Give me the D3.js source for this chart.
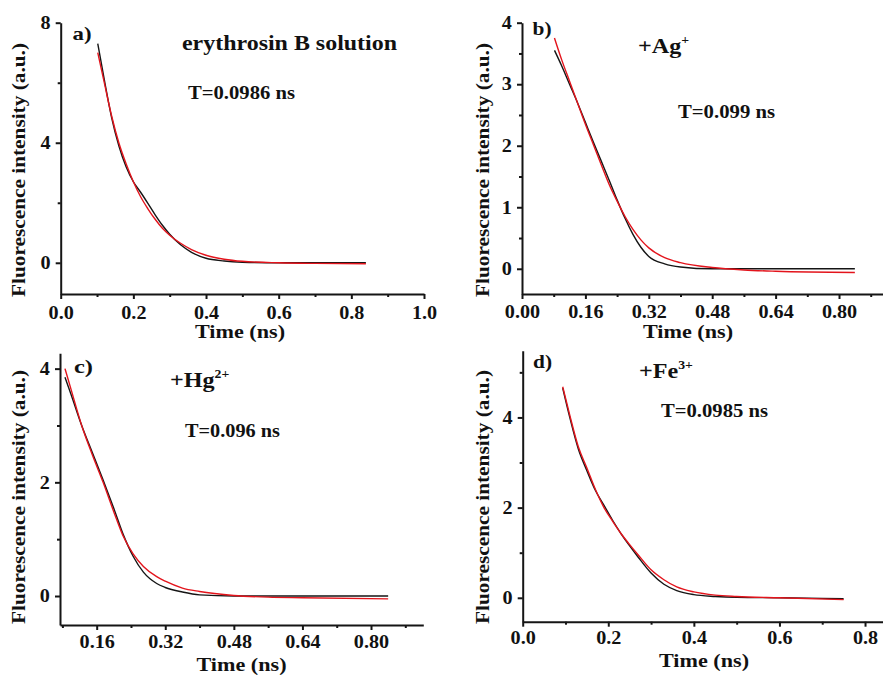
<!DOCTYPE html>
<html>
<head>
<meta charset="utf-8">
<script src="https://cdn.jsdelivr.net/npm/d3@7"></script>
<style>
  body { margin: 0; background: #fff; }
  svg { display: block; }
  text { font-family: "Liberation Serif", "Times New Roman", serif; font-weight: bold; fill: #111; }
</style>
</head>
<body>
<svg id="chart" width="883" height="678"></svg>
<script>
// a) erythrosin B solution
const aTime     = [0.102, 0.12, 0.14, 0.16, 0.18, 0.20, 0.22, 0.24, 0.26, 0.28, 0.30, 0.33, 0.36, 0.40, 0.45, 0.50, 0.60, 0.70, 0.84];
const aMeasured = [7.3, 6.1, 4.85, 3.9, 3.2, 2.7, 2.35, 1.98, 1.6, 1.25, 0.95, 0.6, 0.35, 0.15, 0.06, 0.02, 0.0, 0.0, 0.0];
const aFit      = [7.0, 6.0, 4.9, 4.0, 3.3, 2.7, 2.2, 1.8, 1.45, 1.15, 0.92, 0.65, 0.44, 0.25, 0.12, 0.05, 0.0, -0.02, -0.03];

// b) +Ag+
const bTime     = [0.082, 0.10, 0.12, 0.14, 0.16, 0.18, 0.20, 0.22, 0.24, 0.26, 0.28, 0.30, 0.32, 0.36, 0.40, 0.48, 0.56, 0.64, 0.84];
const bMeasured = [3.55, 3.3, 3.0, 2.7, 2.38, 2.06, 1.75, 1.44, 1.12, 0.82, 0.56, 0.35, 0.2, 0.08, 0.03, 0.0, 0.0, 0.0, 0.0];
const bFit      = [3.75, 3.4, 3.05, 2.7, 2.35, 2.02, 1.69, 1.37, 1.1, 0.85, 0.64, 0.47, 0.34, 0.18, 0.1, 0.02, -0.02, -0.04, -0.06];

// c) +Hg2+
const cTime     = [0.086, 0.10, 0.125, 0.15, 0.175, 0.20, 0.222, 0.245, 0.269, 0.30, 0.32, 0.36, 0.40, 0.48, 0.56, 0.64, 0.84];
const cMeasured = [3.85, 3.55, 3.0, 2.52, 2.04, 1.54, 1.08, 0.7, 0.42, 0.22, 0.15, 0.07, 0.02, 0.0, 0.0, 0.0, 0.0];
const cFit      = [4.0, 3.64, 3.0, 2.48, 2.0, 1.48, 1.05, 0.74, 0.52, 0.34, 0.26, 0.14, 0.08, 0.01, -0.02, -0.03, -0.05];

// d) +Fe3+
const dTime     = [0.0935, 0.11, 0.13, 0.15, 0.17, 0.19, 0.21, 0.23, 0.25, 0.27, 0.30, 0.33, 0.36, 0.40, 0.45, 0.50, 0.60, 0.75];
const dMeasured = [4.65, 4.0, 3.3, 2.82, 2.38, 2.05, 1.72, 1.42, 1.15, 0.9, 0.55, 0.3, 0.16, 0.07, 0.03, 0.01, 0.0, -0.02];
const dFit      = [4.68, 4.05, 3.35, 2.88, 2.4, 2.0, 1.7, 1.42, 1.18, 0.95, 0.62, 0.4, 0.24, 0.13, 0.06, 0.03, 0.0, -0.04];

// tick values and labels
const aXTicks = [0, 0.2, 0.4, 0.6, 0.8, 1.0];
const aXLabels = ["0.0", "0.2", "0.4", "0.6", "0.8", "1.0"];
const aXMinor = [0.1, 0.3, 0.5, 0.7, 0.9];
const aYTicks = [0, 4, 8];
const aYLabels = ["0", "4", "8"];
const aYMinor = [2, 6];

const bXTicks = [0, 0.16, 0.32, 0.48, 0.64, 0.80];
const bXLabels = ["0.00", "0.16", "0.32", "0.48", "0.64", "0.80"];
const bXMinor = [0.08, 0.24, 0.40, 0.56, 0.72, 0.88];
const bYTicks = [0, 1, 2, 3, 4];
const bYLabels = ["0", "1", "2", "3", "4"];
const bYMinor = [0.5, 1.5, 2.5, 3.5];

const cXTicks = [0.16, 0.32, 0.48, 0.64, 0.80];
const cXLabels = ["0.16", "0.32", "0.48", "0.64", "0.80"];
const cXMinor = [0.08, 0.24, 0.40, 0.56, 0.72, 0.88];
const cYTicks = [0, 2, 4];
const cYLabels = ["0", "2", "4"];
const cYMinor = [1, 3];

const dXTicks = [0, 0.2, 0.4, 0.6, 0.8];
const dXLabels = ["0.0", "0.2", "0.4", "0.6", "0.8"];
const dXMinor = [0.1, 0.3, 0.5, 0.7];
const dYTicks = [0, 2, 4];
const dYLabels = ["0", "2", "4"];
const dYMinor = [1, 3, 5];

const panelTags = ["a)", "b)", "c)", "d)"];
const lifetimes = ["T=0.0986 ns", "T=0.099 ns", "T=0.096 ns", "T=0.0985 ns"];

const BLACK = "#151515";
const RED = "#e3141c";

const svg = d3.select("#chart");

// layout for each panel (pixel frames and axis domains)
const panels = [
  { time: aTime, measured: aMeasured, fit: aFit,
    xd: [0, 1.0], xr: [60.7, 424], yd: [-1.04, 8], yr: [294, 22.7],
    xt: aXTicks, xl: aXLabels, xm: aXMinor, yt: aYTicks, yl: aYLabels, ym: aYMinor,
    tag: [72.5, 40], life: [188, 99, 107], ytitle: [25, 170], xtitle: [240, 338], xpad: 7 },
  { time: bTime, measured: bMeasured, fit: bFit,
    xd: [0, 0.911], xr: [522, 883], yd: [-0.41, 4], yr: [294, 22.7],
    xt: bXTicks, xl: bXLabels, xm: bXMinor, yt: bYTicks, yl: bYLabels, ym: bYMinor,
    tag: [532.5, 35], life: [678, 118, 97], ytitle: [489, 170], xtitle: [688, 338], xpad: 6 },
  { time: cTime, measured: cMeasured, fit: cFit,
    xd: [0.0744, 0.922], xr: [60, 423.3], yd: [-0.51, 4.27], yr: [625, 353.3],
    xt: cXTicks, xl: cXLabels, xm: cXMinor, yt: cYTicks, yl: cYLabels, ym: cYMinor,
    tag: [74, 373], life: [185, 437, 95], ytitle: [25, 497], xtitle: [241.5, 671], xpad: 5 },
  { time: dTime, measured: dMeasured, fit: dFit,
    xd: [0, 0.842], xr: [522.7, 883], yd: [-0.53, 5.48], yr: [621.7, 350.7],
    xt: dXTicks, xl: dXLabels, xm: dXMinor, yt: dYTicks, yl: dYLabels, ym: dYMinor,
    tag: [533, 368], life: [661, 417, 107], ytitle: [489, 497], xtitle: [704, 667], xpad: 5 }
];

function drawPanel(p, i) {
  const g = svg.append("g");
  const x = d3.scaleLinear().domain(p.xd).range(p.xr);
  const y = d3.scaleLinear().domain(p.yd).range(p.yr);
  const y0 = p.yr[0], x0 = p.xr[0];

  // minor ticks first, then major axis on top
  g.append("g").attr("transform", `translate(0,${y0})`)
    .call(d3.axisBottom(x).tickValues(p.xm).tickSize(3).tickSizeOuter(0).tickFormat(""))
    .call(a => a.select(".domain").remove());
  g.append("g").attr("transform", `translate(${x0},0)`)
    .call(d3.axisLeft(y).tickValues(p.ym).tickSize(3).tickSizeOuter(0).tickFormat(""))
    .call(a => a.select(".domain").remove());

  const xa = g.append("g").attr("transform", `translate(0,${y0})`)
    .call(d3.axisBottom(x).tickValues(p.xt).tickSize(5).tickSizeOuter(0).tickPadding(p.xpad)
      .tickFormat((d, k) => p.xl[k]));
  const ya = g.append("g").attr("transform", `translate(${x0},0)`)
    .call(d3.axisLeft(y).tickValues(p.yt).tickSize(5).tickSizeOuter(0).tickPadding(4)
      .tickFormat((d, k) => p.yl[k]));

  [xa, ya].forEach(a => {
    a.selectAll("path, line").attr("stroke", BLACK).attr("stroke-width", 2);
    a.selectAll("text").attr("font-family", null).attr("font-size", 18)
      .attr("fill", BLACK).attr("transform", "scale(1.12,1)");
  });
  g.selectAll(".tick line").attr("stroke", BLACK).attr("stroke-width", 2);

  // curves
  const line = d3.line()
    .x((d, k) => x(p.time[k]))
    .y(d => y(d))
    .curve(d3.curveMonotoneX);
  g.append("path").attr("d", line(p.measured))
    .attr("fill", "none").attr("stroke", BLACK).attr("stroke-width", 1.4);
  g.append("path").attr("d", line(p.fit))
    .attr("fill", "none").attr("stroke", RED).attr("stroke-width", 1.4);

  // axis titles
  g.append("text").attr("x", p.xtitle[0]).attr("y", p.xtitle[1])
    .attr("text-anchor", "middle").attr("font-size", 19)
    .attr("textLength", 90).attr("lengthAdjust", "spacingAndGlyphs")
    .text("Time (ns)");
  g.append("text")
    .attr("transform", `translate(${p.ytitle[0]},${p.ytitle[1]}) rotate(-90)`)
    .attr("text-anchor", "middle").attr("font-size", 18)
    .attr("textLength", 254).attr("lengthAdjust", "spacingAndGlyphs")
    .text("Fluorescence intensity (a.u.)");

  // panel tag and lifetime
  g.append("text").attr("x", p.tag[0]).attr("y", p.tag[1]).attr("font-size", 19)
    .attr("textLength", 19).attr("lengthAdjust", "spacingAndGlyphs")
    .text(panelTags[i]);
  g.append("text").attr("x", p.life[0]).attr("y", p.life[1]).attr("font-size", 18)
    .attr("textLength", p.life[2]).attr("lengthAdjust", "spacingAndGlyphs")
    .text(lifetimes[i]);
}

panels.forEach(drawPanel);

// sample titles
svg.append("text").attr("x", 182).attr("y", 50).attr("font-size", 20)
  .attr("textLength", 215).attr("lengthAdjust", "spacingAndGlyphs")
  .text("erythrosin B solution");

function ionTitle(px, py, base, charge) {
  const t = svg.append("text").attr("transform", `translate(${px},${py}) scale(1.15,1)`)
    .attr("font-size", 21);
  t.append("tspan").text(base);
  t.append("tspan").attr("font-size", 12).attr("dy", -9).text(charge);
}
ionTitle(638, 53, "+Ag", "+");
ionTitle(170, 387, "+Hg", "2+");
ionTitle(639, 378, "+Fe", "3+");
</script>
</body>
</html>
